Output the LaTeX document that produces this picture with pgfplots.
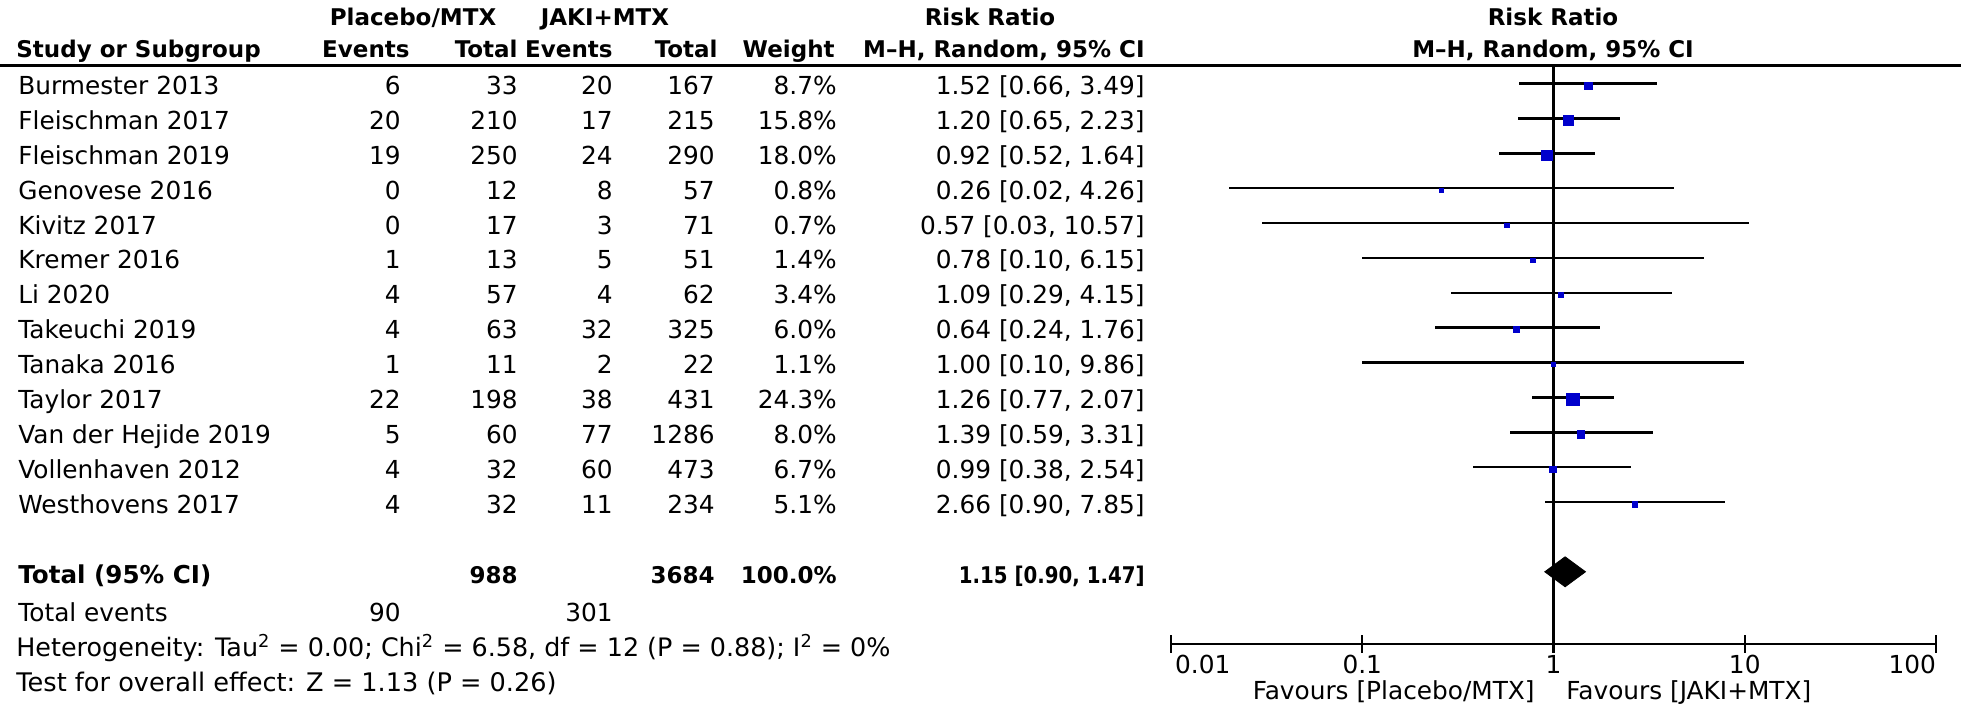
\documentclass[border=0pt]{standalone}
\usepackage{fontspec}
\setmainfont{DejaVu Sans}
\usepackage{graphicx}
\usepackage{pgfplots}
\usepackage{pgfplotstable}
\pgfplotsset{compat=1.18}
\definecolor{rmblue}{RGB}{0,0,204}
\newcommand\fs{\fontsize{12.4pt}{15pt}\selectfont}
\newcommand\fb{\fontsize{11.5pt}{14pt}\selectfont\bfseries}

% one row per study; y = row position in the forest panel
\pgfplotstableread[col sep=comma]{
study,pe,pt,je,jt,w,rr,lo,hi,y
Burmester 2013,6,33,20,167,8.7,1.52,0.66,3.49,17
Fleischman 2017,20,210,17,215,15.8,1.20,0.65,2.23,16
Fleischman 2019,19,250,24,290,18.0,0.92,0.52,1.64,15
Genovese 2016,0,12,8,57,0.8,0.26,0.02,4.26,14
Kivitz 2017,0,17,3,71,0.7,0.57,0.03,10.57,13
Kremer 2016,1,13,5,51,1.4,0.78,0.10,6.15,12
Li 2020,4,57,4,62,3.4,1.09,0.29,4.15,11
Takeuchi 2019,4,63,32,325,6.0,0.64,0.24,1.76,10
Tanaka 2016,1,11,2,22,1.1,1.00,0.10,9.86,9
Taylor 2017,22,198,38,431,24.3,1.26,0.77,2.07,8
Van der Hejide 2019,5,60,77,1286,8.0,1.39,0.59,3.31,7
Vollenhaven 2012,4,32,60,473,6.7,0.99,0.38,2.54,6
Westhovens 2017,4,32,11,234,5.1,2.66,0.90,7.85,5
}\studies

\begin{document}
\begin{tikzpicture}
\fs
% table part, in pixel units of the reference
\begin{scope}[x=0.5pt,y=-0.5pt,every node/.style={inner sep=0pt,font=\fs}]
\path[use as bounding box] (0,0) rectangle (1961,707);
\draw[line width=1.3pt] (0,65.4) -- (1961,65.4);

\node[anchor=base,font=\fb] at (413,25) {Placebo/MTX};
\node[anchor=base,font=\fb] at (605,25) {JAKI+MTX};
\node[anchor=base,font=\fb] at (990,25) {Risk Ratio};
\node[anchor=base,font=\fb] at (1553,25) {Risk Ratio};
\node[anchor=base west,font=\fb] at (16,57) {Study or Subgroup};
\node[anchor=base east,font=\fb] at (410,57) {Events};
\node[anchor=base east,font=\fb] at (518,57) {Total};
\node[anchor=base east,font=\fb] at (613,57) {Events};
\node[anchor=base east,font=\fb] at (718,57) {Total};
\node[anchor=base east,font=\fb] at (835,57) {Weight};
\node[anchor=base east,font=\fb] at (1145,57) {M–H, Random, 95\% CI};
\node[anchor=base,font=\fb] at (1553,57) {M–H, Random, 95\% CI};

\foreach \i in {0,...,12}{
  \pgfmathsetmacro\yb{94.6+34.87*\i}
  \pgfplotstablegetelem{\i}{study}\of\studies
  \node[anchor=base west] at (18,\yb) {\pgfplotsretval};
  \pgfplotstablegetelem{\i}{pe}\of\studies
  \node[anchor=base east] at (401,\yb) {\pgfplotsretval};
  \pgfplotstablegetelem{\i}{pt}\of\studies
  \node[anchor=base east] at (518,\yb) {\pgfplotsretval};
  \pgfplotstablegetelem{\i}{je}\of\studies
  \node[anchor=base east] at (613,\yb) {\pgfplotsretval};
  \pgfplotstablegetelem{\i}{jt}\of\studies
  \node[anchor=base east] at (715,\yb) {\pgfplotsretval};
  \pgfplotstablegetelem{\i}{w}\of\studies
  \node[anchor=base east] at (837,\yb) {\pgfplotsretval\%};
  \pgfplotstablegetelem{\i}{rr}\of\studies \let\cRR\pgfplotsretval
  \pgfplotstablegetelem{\i}{lo}\of\studies \let\cLo\pgfplotsretval
  \pgfplotstablegetelem{\i}{hi}\of\studies \let\cHi\pgfplotsretval
  \node[anchor=base east] at (1145,\yb) {\cRR{} [\cLo, \cHi]};
}

\node[anchor=base west,font=\fontsize{12.3pt}{14pt}\selectfont\bfseries] at (18,583.5) {Total (95\% CI)};
\node[anchor=base east,font=\fb] at (518,583.5) {988};
\node[anchor=base east,font=\fb] at (715,583.5) {3684};
\node[anchor=base east,font=\fb] at (837,583.5) {100.0\%};
\node[anchor=base east,font=\fb] at (1145,583.5) {\scalebox{0.86}[1]{1.15 [0.90, 1.47]}};
\node[anchor=base west] at (18,621) {Total events};
\node[anchor=base east] at (401,621) {90};
\node[anchor=base east] at (613,621) {301};
\node[anchor=base west,font=\fontsize{12.7pt}{15pt}\selectfont] at (16,656) {Heterogeneity: Tau\textsuperscript{2} = 0.00; Chi\textsuperscript{2} = 6.58, df = 12 (P = 0.88); I\textsuperscript{2} = 0\%};
\node[anchor=base west,font=\fontsize{12.8pt}{15pt}\selectfont] at (16,691) {Test for overall effect: Z = 1.13 (P = 0.26)};

\node[anchor=base east] at (1535,699) {Favours [Placebo/MTX]};
\node[anchor=base west] at (1566,699) {Favours [JAKI+MTX]};
\end{scope}

% forest panel
\begin{axis}[
    at={(585.5pt,-322pt)}, anchor=south west,
    scale only axis, width=382.5pt, height=289.3pt,
    set layers=standard,
    xmode=log, xmin=0.01, xmax=100,
    ymin=0.929, ymax=17.522,
    axis x line*=bottom, axis y line=none,
    x axis line style={-, line width=1.2pt},
    xtick={0.01,0.1,1,10,100},
    xticklabels={{\makebox[0pt][l]{\,0.01}},{0.1},{1},{10},{\makebox[0pt][r]{100}}},
    xminorticks=false,
    tick align=center, major tick length=8.7pt,
    every tick/.style={black, line width=1.2pt},
    xticklabel style={font=\fs, anchor=base, yshift=-10.5pt, inner sep=0pt},
    clip=false,
]
\addplot[on layer=pre main, black, line width=1.2pt] coordinates {(1,0.929) (1,17.522)};
% confidence intervals
\addplot[on layer=pre main, only marks, mark=none, mark size=0pt,
    mark options={draw=none, fill=none},
    error bars/.cd, x dir=both, x explicit, error mark=none,
    error bar style={line width=1.2pt, black}]
    table[x=rr, y=y, x error plus expr=\thisrow{hi}-\thisrow{rr},
          x error minus expr=\thisrow{rr}-\thisrow{lo}] {\studies};
% squares sized by weight
\addplot[on layer=main, scatter, only marks, mark=square*,
    visualization depends on={\thisrow{w} \as \wt},
    scatter/@pre marker code/.code={%
      \pgfmathsetmacro\ms{max(0.63*sqrt(\wt),1.05)}%
      \scope[mark size=\ms pt, draw=rmblue, fill=rmblue, line width=0.3pt, yshift=-1pt]},
    scatter/@post marker code/.code={\endscope}]
    table[x=rr, y=y] {\studies};
% pooled estimate
\addplot[on layer=main, fill=black, draw=black] coordinates {(0.90,3) (1.15,3.43) (1.47,3) (1.15,2.57)} -- cycle;
\end{axis}
\end{tikzpicture}
\end{document}
